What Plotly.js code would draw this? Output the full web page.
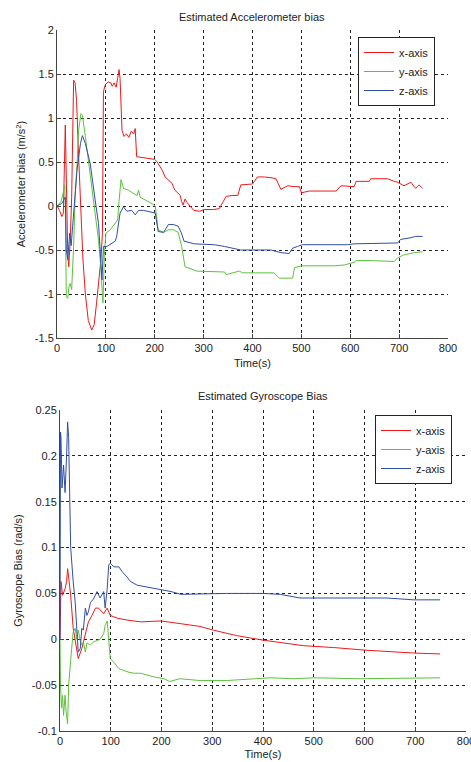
<!DOCTYPE html>
<html>
<head>
<meta charset="utf-8">
<script src="https://cdn.plot.ly/plotly-3.0.1.min.js"></script>
<style>html,body{margin:0;padding:0;background:#fff;}#chart{width:471px;height:762px;}</style>
</head>
<body>
<div id="chart"></div>
<script>
// ---- Estimated Accelerometer bias (m/s^2) ----
const accXT = [0, 5, 10, 13, 17, 19, 22, 24, 27, 30,
  32, 34, 37, 40, 44, 48, 53, 58, 64, 71,
  76, 81, 86, 90, 93, 95, 99, 105, 110, 113,
  117, 121, 124, 127, 129, 131, 133, 137, 142, 147,
  152, 157, 160, 163, 175, 190, 200, 205, 211, 216,
  221, 228, 235, 238, 241, 247, 252, 255, 258, 262,
  266, 272, 280, 292, 301, 320, 332, 340, 346, 360,
  370, 376, 392, 400, 410, 424, 440, 448, 458, 465,
  472, 485, 496, 500, 516, 540, 571, 581, 608, 612,
  639, 642, 676, 690, 697, 710, 717, 724, 731, 734, 741, 748];
const accX = [0.0, -0.05, -0.12, -0.08, 0.92, 0.2, -0.55, -0.69, -0.4, 0.1,
  0.9, 1.43, 1.40, 1.2, 0.6, 0.0, -0.6, -1.0, -1.3, -1.41,
  -1.35, -1.1, -0.83, -0.6, -0.3, 1.30, 1.38, 1.41, 1.40, 1.36,
  1.40, 1.35, 1.45, 1.55, 1.45, 1.2, 0.86, 0.79, 0.82, 0.78,
  0.85, 0.82, 0.88, 0.56, 0.55, 0.54, 0.53, 0.50, 0.45, 0.40,
  0.33, 0.30, 0.26, 0.22, 0.18, 0.15, 0.12, 0.05, 0.01, 0.08,
  0.04, 0.0, -0.05, -0.06, -0.04, -0.04, -0.03, 0.05, 0.11, 0.12,
  0.12, 0.24, 0.25, 0.25, 0.33, 0.33, 0.32, 0.31, 0.19, 0.21,
  0.23, 0.22, 0.22, 0.15, 0.17, 0.17, 0.17, 0.23, 0.22, 0.28,
  0.28, 0.31, 0.31, 0.28, 0.27, 0.23, 0.25, 0.27, 0.22, 0.2, 0.24, 0.2];

const accYT = [0, 8, 12, 16, 17, 19, 22, 25, 27, 30,
  34, 37, 41, 44, 49, 52, 58, 65, 75, 85,
  90, 94, 97, 100, 109, 119, 124, 127, 131, 136,
  146, 160, 164, 167, 170, 190, 201, 207, 218, 228,
  238, 248, 255, 262, 275, 286, 343, 346, 373, 380,
  444, 455, 482, 486, 502, 567, 588, 608, 612, 636,
  690, 697, 707, 731, 748];
const accY = [0.0, 0.05, 0.13, 0.24, 0.0, -1.03, -1.05, -0.9, -0.88, -0.95,
  -0.46, 0.1, 0.47, 0.85, 1.05, 1.03, 0.79, 0.48, 0.07, -0.39,
  -0.73, -1.1, -0.55, -0.31, -0.27, -0.2, -0.16, 0.06, 0.3, 0.2,
  0.18, 0.13, 0.12, 0.18, 0.1, 0.04, 0.0, -0.27, -0.3, -0.27,
  -0.27, -0.3, -0.46, -0.69, -0.72, -0.74, -0.75, -0.78, -0.74, -0.76,
  -0.76, -0.82, -0.82, -0.7, -0.68, -0.68, -0.67, -0.64, -0.62, -0.62,
  -0.63, -0.59, -0.56, -0.53, -0.52];

const accZT = [0, 10, 14, 17, 19, 22, 26, 29, 32, 41,
  48, 52, 58, 68, 78, 85, 92, 95, 102, 119,
  122, 126, 129, 136, 143, 153, 160, 167, 177, 201,
  207, 218, 228, 238, 248, 254, 260, 281, 322, 343,
  376, 438, 458, 475, 482, 492, 502, 594, 608, 697,
  703, 724, 734, 748];
const accZ = [0.0, 0.03, 0.07, 0.1, -0.5, -0.61, -0.31, -0.45, -0.23, 0.41,
  0.71, 0.8, 0.71, 0.48, 0.07, -0.2, -0.84, -0.46, -0.46, -0.4,
  -0.35, -0.16, -0.08, -0.01, -0.06, -0.05, -0.1, -0.05, -0.05, -0.08,
  -0.29, -0.3, -0.21, -0.21, -0.23, -0.3, -0.4, -0.43, -0.44, -0.46,
  -0.5, -0.5, -0.53, -0.54, -0.48, -0.46, -0.44, -0.44, -0.43, -0.42,
  -0.38, -0.36, -0.345, -0.345];

// ---- Estimated Gyroscope Bias (rad/s) ----
const gyrXT = [0, 1, 2, 5, 10, 13, 15, 18, 21, 26,
  32, 36, 43, 50, 56, 63, 70, 76, 86, 93,
  99, 113, 132, 159, 199, 238, 276, 302, 348, 401,
  460, 480, 539, 605, 697, 749];
const gyrX = [0.0, 0.05, 0.063, 0.048, 0.055, 0.063, 0.077, 0.063, 0.048, 0.012,
  -0.01, -0.021, -0.01, 0.005, 0.019, 0.026, 0.034, 0.034, 0.028, 0.034,
  0.026, 0.023, 0.021, 0.019, 0.02, 0.017, 0.014, 0.01, 0.004, -0.001,
  -0.006, -0.007, -0.009, -0.012, -0.015, -0.016];

const gyrYT = [0, 1, 3, 5, 7, 10, 12, 15, 17, 20,
  23, 26, 30, 33, 36, 40, 43, 46, 50, 53,
  60, 66, 73, 79, 86, 89, 93, 96, 99, 106,
  116, 126, 136, 146, 159, 185, 205, 216, 225, 236,
  276, 328, 414, 460, 500, 592, 749];
const gyrY = [0.0, -0.05, -0.075, -0.061, -0.083, -0.061, -0.079, -0.092, -0.05, -0.025,
  -0.01, 0.008, 0.012, 0.0, 0.01, -0.002, -0.006, -0.003, -0.014, -0.004,
  -0.006, -0.003, -0.001, 0.0, 0.006, 0.015, 0.02, -0.002, -0.021, -0.025,
  -0.032, -0.034, -0.036, -0.037, -0.037, -0.041, -0.043, -0.046, -0.045, -0.043,
  -0.045, -0.045, -0.042, -0.043, -0.042, -0.043, -0.042];

const gyrZT = [0, 1, 2, 4, 7, 8, 10, 13, 15, 17,
  19, 21, 26, 30, 33, 36, 40, 43, 46, 50,
  53, 56, 60, 66, 73, 79, 86, 89, 93, 96,
  99, 106, 116, 122, 132, 139, 152, 172, 192, 219,
  238, 300, 328, 400, 434, 473, 644, 697, 749];
const gyrZ = [0.0, 0.226, 0.22, 0.165, 0.19, 0.18, 0.16, 0.2, 0.237, 0.22,
  0.16, 0.1, 0.063, 0.04, 0.012, -0.014, -0.01, 0.012, 0.01, 0.034,
  0.026, 0.03, 0.04, 0.044, 0.052, 0.045, 0.052, 0.034, 0.055, 0.081,
  0.083, 0.079, 0.079, 0.074, 0.068, 0.063, 0.059, 0.057, 0.055, 0.052,
  0.049, 0.05, 0.05, 0.05, 0.049, 0.045, 0.045, 0.043, 0.043];

const seriesNames = ['x-axis', 'y-axis', 'z-axis'];
const seriesColors = ['#f01818', '#5cc23c', '#2f4fa5'];
const xTicks = [0, 100, 200, 300, 400, 500, 600, 700, 800];
const accTicks = [-1.5, -1, -0.5, 0, 0.5, 1, 1.5, 2];
const gyrTicks = [-0.1, -0.05, 0, 0.05, 0.1, 0.15, 0.2, 0.25];

const W = 471, H = 762;
const FONT = 'Liberation Sans, Arial, sans-serif';

function tr(x, y, i, xa, ya, leg) {
  return {x: x, y: y, type: 'scatter', mode: 'lines', name: seriesNames[i],
    line: {color: seriesColors[i], width: 1}, xaxis: xa, yaxis: ya, legend: leg};
}
const data = [
  tr(accXT, accX, 0, 'x', 'y', 'legend'),
  tr(accYT, accY, 1, 'x', 'y', 'legend'),
  tr(accZT, accZ, 2, 'x', 'y', 'legend'),
  tr(gyrXT, gyrX, 0, 'x2', 'y2', 'legend2'),
  tr(gyrYT, gyrY, 1, 'x2', 'y2', 'legend2'),
  tr(gyrZT, gyrZ, 2, 'x2', 'y2', 'legend2')
];

function xax(dom, anchor, standoff) {
  return {domain: dom, anchor: anchor, range: [0, 800], tickvals: xTicks, ticktext: xTicks.map(String),
    showgrid: true, gridcolor: '#222', griddash: '3px,3px', gridwidth: 1,
    showline: true, linecolor: '#444', linewidth: 1, ticks: 'inside', ticklen: 4, tickcolor: '#444',
    zeroline: false, ticklabeloverflow: 'allow', tickfont: {size: 11, color: '#222', family: FONT},
    title: {text: 'Time(s)', font: {size: 11, color: '#222', family: FONT}, standoff: standoff}};
}
function yax(dom, anchor, rng, ticks, title) {
  return {domain: dom, anchor: anchor, range: rng, tickvals: ticks, ticktext: ticks.map(String),
    showgrid: true, gridcolor: '#222', griddash: '3px,3px', gridwidth: 1,
    showline: true, linecolor: '#444', linewidth: 1, ticks: 'inside', ticklen: 4, tickcolor: '#444',
    zeroline: false, tickfont: {size: 11, color: '#222', family: FONT},
    title: {text: title, font: {size: 11, color: '#222', family: FONT}, standoff: 6}};
}

const layout = {
  width: W, height: H,
  margin: {l: 0, r: 0, t: 0, b: 0},
  paper_bgcolor: '#fff', plot_bgcolor: '#fff',
  font: {family: FONT, size: 11, color: '#222'},
  xaxis: xax([57 / W, 448 / W], 'y', 6),
  yaxis: yax([1 - 338 / H, 1 - 30 / H], 'x', [-1.5, 2], accTicks, 'Accelerometer bias (m/s<sup>2</sup>)'),
  xaxis2: xax([60 / W, 466 / W], 'y2', 4),
  yaxis2: yax([1 - 731 / H, 1 - 410 / H], 'x2', [-0.1, 0.25], gyrTicks, 'Gyroscope Bias (rad/s)'),
  legend: {x: 358 / W, y: 1 - 37 / H, xanchor: 'left', yanchor: 'top', bgcolor: '#fff',
    bordercolor: '#222', borderwidth: 1, font: {size: 11, family: FONT, color: '#222'}, tracegroupgap: 0},
  legend2: {x: 375 / W, y: 1 - 415 / H, xanchor: 'left', yanchor: 'top', bgcolor: '#fff',
    bordercolor: '#222', borderwidth: 1, font: {size: 11, family: FONT, color: '#222'}, tracegroupgap: 0},
  annotations: [
    {text: 'Estimated Accelerometer bias', xref: 'paper', yref: 'paper', x: 252 / W, y: 1 - 17 / H,
      xanchor: 'center', yanchor: 'middle', showarrow: false, font: {size: 11, family: FONT, color: '#222'}},
    {text: 'Estimated Gyroscope Bias', xref: 'paper', yref: 'paper', x: 263 / W, y: 1 - 396 / H,
      xanchor: 'center', yanchor: 'middle', showarrow: false, font: {size: 11, family: FONT, color: '#222'}}
  ],
  showlegend: true
};

Plotly.newPlot('chart', data, layout, {displayModeBar: false, staticPlot: true});
</script>
</body>
</html>
